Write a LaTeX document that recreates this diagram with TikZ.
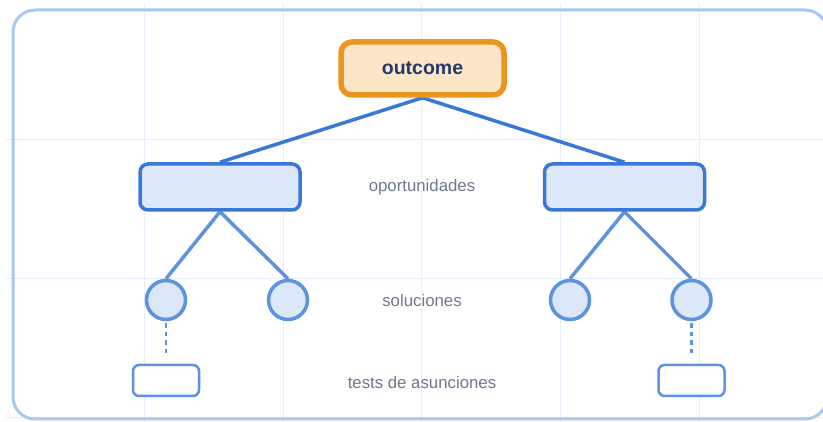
\documentclass[tikz,border=0pt]{standalone}
\usepackage{fontspec}
\setmainfont{Liberation Sans}
\definecolor{framec}{RGB}{169,199,240}
\definecolor{gridc}{RGB}{228,237,251}
\definecolor{darkb}{RGB}{58,120,216}
\definecolor{lightb}{RGB}{91,147,224}
\definecolor{bfill}{RGB}{220,232,249}
\definecolor{orangec}{RGB}{233,149,30}
\definecolor{ofill}{RGB}{253,230,200}
\definecolor{navy}{RGB}{34,57,106}
\definecolor{lblc}{RGB}{110,119,140}
\pgfdeclarelayer{bg}
\pgfdeclarelayer{edges}
\pgfsetlayers{bg,edges,main}
\tikzset{
  gridline/.style={draw=gridc, line width=1pt},
  framebox/.style={draw=framec, line width=3pt, rounded corners=22pt},
  outbox/.style={draw=orangec, fill=ofill, line width=5.5pt, rounded corners=11pt,
    minimum width=163pt, minimum height=53pt, inner sep=0pt,
    text=navy, font=\fontsize{19.5}{22}\selectfont\bfseries},
  oppbox/.style={draw=darkb, fill=bfill, line width=3.5pt, rounded corners=8pt,
    minimum width=160pt, minimum height=46pt, inner sep=0pt},
  solc/.style={circle, draw=lightb, fill=bfill, line width=3.5pt, minimum size=39pt, inner sep=0pt},
  testbox/.style={draw=lightb, fill=white, line width=2.5pt, rounded corners=6pt,
    minimum width=66pt, minimum height=31pt, inner sep=0pt},
  lbl/.style={text=lblc, font=\fontsize{16.8}{19}\selectfont, inner sep=0pt},
  edgeA/.style={draw=darkb, line width=3.5pt},
  edgeB/.style={draw=lightb, line width=3.5pt},
  dashline/.style={draw=lightb, line width=2.5pt, dash pattern=on 4.5pt off 4pt}
}
\begin{document}
\begin{tikzpicture}[x=1pt,y=-1pt]
\useasboundingbox (0,0) rectangle (823,422);
\begin{pgfonlayer}{bg}
\foreach \x in {144,283,421,560,699} \draw[gridline] (\x,3) -- (\x,422);
\foreach \y in {140,279,418} \draw[gridline] (6,\y) -- (823,\y);
\draw[framebox] (13,10) rectangle (827,419);
\end{pgfonlayer}

\node[outbox] (out) at (422.5,68.5) {outcome};
\node[oppbox] (oppL) at (220,187) {};
\node[oppbox] (oppR) at (624.5,187) {};
\node[solc] (s1) at (166,300) {};
\node[solc] (s2) at (288,300) {};
\node[solc] (s3) at (570,300) {};
\node[solc] (s4) at (691.5,300) {};
\node[testbox] (t1) at (166,380.5) {};
\node[testbox] (t2) at (691.5,380.5) {};
\node[lbl] (l1) at (422,187) {oportunidades};
\node[lbl] (l2) at (422,300) {soluciones};
\node[lbl] (l3) at (422,382) {tests de asunciones};

\begin{pgfonlayer}{edges}
\draw[edgeA] (out.south) -- (oppL.north);
\draw[edgeA] (out.south) -- (oppR.north);
\draw[edgeB] (oppL.south) -- (s1.north);
\draw[edgeB] (oppL.south) -- (s2.north);
\draw[edgeB] (oppR.south) -- (s3.north);
\draw[edgeB] (oppR.south) -- (s4.north);
\draw[dashline, shorten <=2pt, shorten >=8pt] (s1.south) -- (t1.north);
\draw[dashline, shorten <=2pt, shorten >=8pt] (s4.south) -- (t2.north);
\end{pgfonlayer}
\end{tikzpicture}
\end{document}
